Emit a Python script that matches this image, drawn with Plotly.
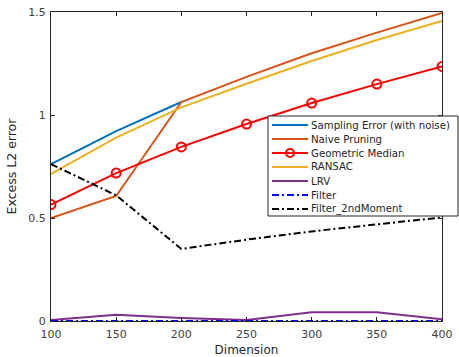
import plotly.graph_objects as go

dims = [100, 150, 200, 250, 300, 350, 400]
sampling_x = [100, 150, 200]
sampling_err = [0.762, 0.922, 1.063]
naive = [0.50, 0.607, 1.063, 1.185, 1.300, 1.400, 1.495]
geo_median = [0.565, 0.718, 0.845, 0.956, 1.058, 1.150, 1.236]
ransac = [0.714, 0.890, 1.037, 1.152, 1.262, 1.364, 1.457]
lrv = [0.005, 0.030, 0.015, 0.005, 0.042, 0.042, 0.008]
filt = [0.0, 0.0, 0.0, 0.0, 0.0, 0.0, 0.0]
filt2 = [0.762, 0.610, 0.350, 0.395, 0.435, 0.470, 0.503]

xticks = [100, 150, 200, 250, 300, 350, 400]
yticks = [0, 0.5, 1, 1.5]
ytick_text = ["0", "0.5", "1", "1.5"]

DASHDOT = "7px,3px,2px,3px"
series = [
    ("Sampling Error (with noise)", sampling_x, sampling_err, "#0072BD", "solid", False),
    ("Naive Pruning", dims, naive, "#D95319", "solid", False),
    ("Geometric Median", dims, geo_median, "#FF0000", "solid", True),
    ("RANSAC", dims, ransac, "#EDB120", "solid", False),
    ("LRV", dims, lrv, "#7E2F8E", "solid", False),
    ("Filter", dims, filt, "#0000FF", DASHDOT, False),
    ("Filter_2ndMoment", dims, filt2, "#000000", DASHDOT, False),
]

# plot area in pixels
W, H = 459, 357
L, R, T, B = 51, 17, 12, 36
pw, ph = W - L - R, H - T - B

def px2x(p):
    return (p - L) / pw

def py2y(p):
    return (H - B - p) / ph

fig = go.Figure()
for name, xs, ys, color, dash, markers in series:
    kw = dict(x=xs, y=ys, name=name, showlegend=False,
              line=dict(color=color, width=2, dash=dash))
    if markers:
        kw["mode"] = "lines+markers"
        kw["marker"] = dict(symbol="circle-open", size=9, color=color, line=dict(width=2))
    else:
        kw["mode"] = "lines"
    fig.add_trace(go.Scatter(**kw))

# custom legend (MATLAB-style compact)
shapes = [dict(type="rect", xref="paper", yref="paper",
               x0=px2x(268), x1=px2x(458), y0=py2y(216), y1=py2y(116),
               fillcolor="white", line=dict(color="#262626", width=1), layer="above")]
annotations = []
for i, (name, xs, ys, color, dash, markers) in enumerate(series):
    yc = 125 + 14 * i
    shapes.append(dict(type="line", xref="paper", yref="paper",
                       x0=px2x(272), x1=px2x(308), y0=py2y(yc), y1=py2y(yc),
                       line=dict(color=color, width=2, dash=dash), layer="above"))
    if markers:
        shapes.append(dict(type="circle", xref="paper", yref="paper",
                           xsizemode="pixel", ysizemode="pixel",
                           xanchor=px2x(290), yanchor=py2y(yc),
                           x0=-4, x1=4, y0=-4, y1=4,
                           line=dict(color=color, width=2), layer="above"))
    annotations.append(dict(xref="paper", yref="paper", x=px2x(309), y=py2y(yc),
                            xanchor="left", yanchor="middle", showarrow=False,
                            text=name, font=dict(size=10.2, color="#262626", family="DejaVu Sans")))

axis_common = dict(showgrid=False, zeroline=False, showline=True, linecolor="#262626", linewidth=1,
                   mirror="ticks", ticks="inside", ticklen=4, tickcolor="#262626",
                   tickfont=dict(size=11, color="#404040", family="DejaVu Sans"))

fig.update_layout(
    width=W, height=H,
    margin=dict(l=L, r=R, t=T, b=B, autoexpand=False),
    paper_bgcolor="white", plot_bgcolor="white",
    font=dict(family="DejaVu Sans", size=11, color="#262626"),
    xaxis=dict(range=[100, 400], tickvals=xticks,
               title=dict(text="Dimension", font=dict(size=12, color="#262626"), standoff=6),
               ticklabelstandoff=3,
               **axis_common),
    yaxis=dict(range=[0, 1.5], tickvals=yticks, ticktext=ytick_text,
               title=dict(text="Excess L2 error", font=dict(size=12.5, color="#262626"), standoff=8),
               ticklabelstandoff=2,
               **axis_common),
    shapes=shapes,
    annotations=annotations,
    showlegend=False,
)

fig.write_html("out.html")
